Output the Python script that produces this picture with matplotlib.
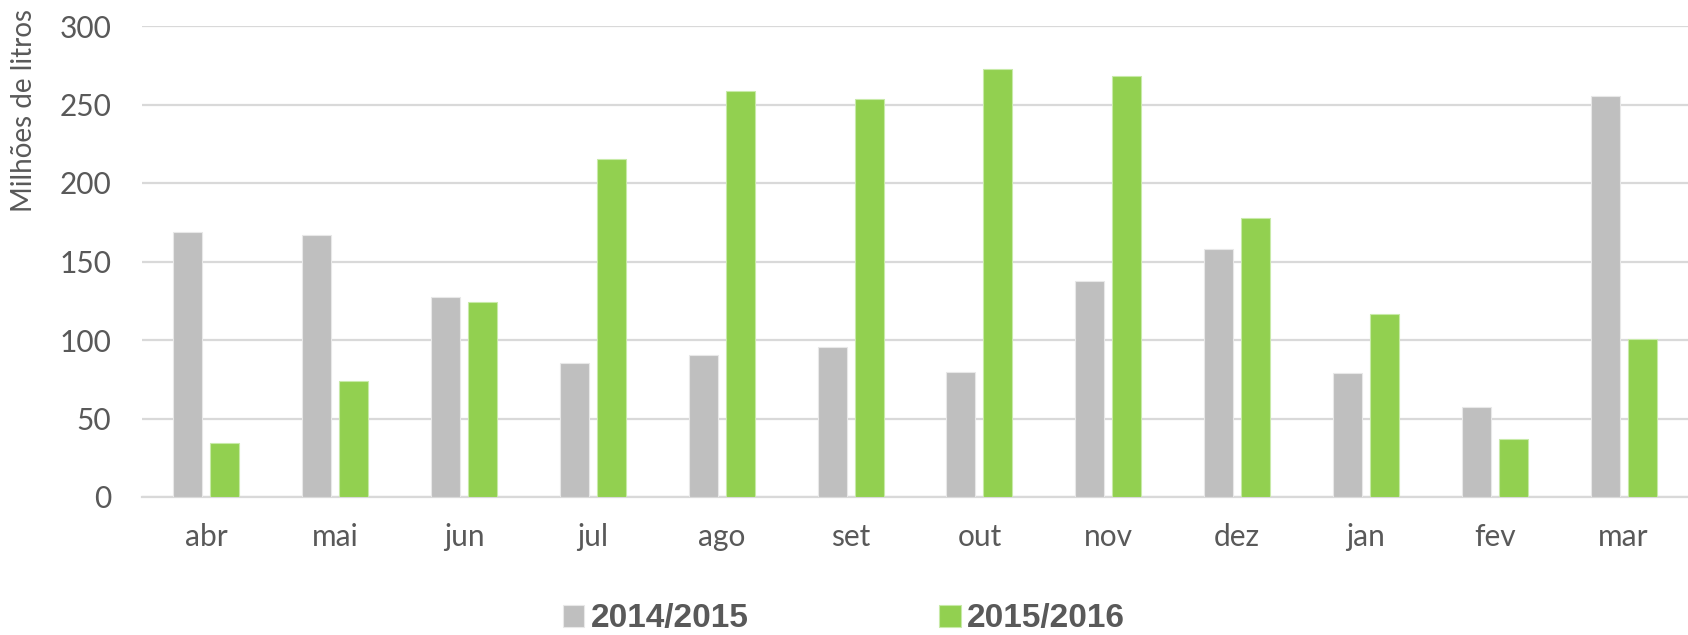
import numpy as np
import matplotlib
matplotlib.use("Agg")
import matplotlib.pyplot as plt

months = ["abr", "mai", "jun", "jul", "ago", "set", "out", "nov", "dez", "jan", "fev", "mar"]
season_2014 = [169, 166.6, 127.3, 85.5, 90.3, 95.8, 79.3, 137.6, 158.2, 78.7, 57.3, 255.6]
season_2015 = [34.2, 73.9, 123.9, 215, 258.8, 253.3, 272.8, 268.4, 178, 116.4, 36.7, 100.8]
series_names = ["2014/2015", "2015/2016"]
y_ticks = [0, 50, 100, 150, 200, 250, 300]

GRAY = "#bfbfbf"
GREEN = "#92d050"
TEXT = "#595959"
GRID = "#d9d9d9"

plt.rcParams["font.family"] = ["Lato", "DejaVu Sans"]

fig = plt.figure(figsize=(16.88, 6.35), dpi=100)
ax = fig.add_axes([142 / 1688, 1 - 497 / 635, 1 - 142 / 1688, (497 - 26) / 635])

x = np.arange(len(months))
w = 0.225
off = 0.144
ax.bar(x - off, season_2014, w, color=GRAY, edgecolor="#e8e8e8", linewidth=0.8,
       label=series_names[0], zorder=3)
ax.bar(x + off, season_2015, w, color=GREEN, edgecolor="#c8eaa8", linewidth=0.8,
       label=series_names[1], zorder=3)

ax.set_xlim(-0.5, len(months) - 0.5)
ax.set_ylim(0, 300)
ax.set_yticks(y_ticks)
ax.set_xticks(x)
ax.set_xticklabels(months)
ax.tick_params(axis="both", length=0, labelsize=21.5, colors=TEXT)
ax.tick_params(axis="y", pad=22)
ax.tick_params(axis="x", pad=19)
ax.yaxis.grid(True, color=GRID, linewidth=1.6, zorder=0)
ax.set_axisbelow(True)
for s in ["top", "right", "left"]:
    ax.spines[s].set_visible(False)
ax.spines["bottom"].set_color(GRID)
ax.spines["bottom"].set_linewidth(1.6)

fig.text(24 / 1688, 1 - 111 / 635, "Milhões de litros", rotation=90,
         ha="center", va="center", fontsize=20, color=TEXT)

leg = fig.legend(loc="center", bbox_to_anchor=(0.5, 1 - 619 / 635), ncol=2,
                 frameon=False, handlelength=0.65, handleheight=0.65, handletextpad=0.2,
                 columnspacing=5.7, borderpad=0.2,
                 prop={"family": ["Liberation Sans", "DejaVu Sans"],
                       "weight": "bold", "size": 24})
for t in leg.get_texts():
    t.set_color(TEXT)

fig.savefig("out.png", dpi=100)
